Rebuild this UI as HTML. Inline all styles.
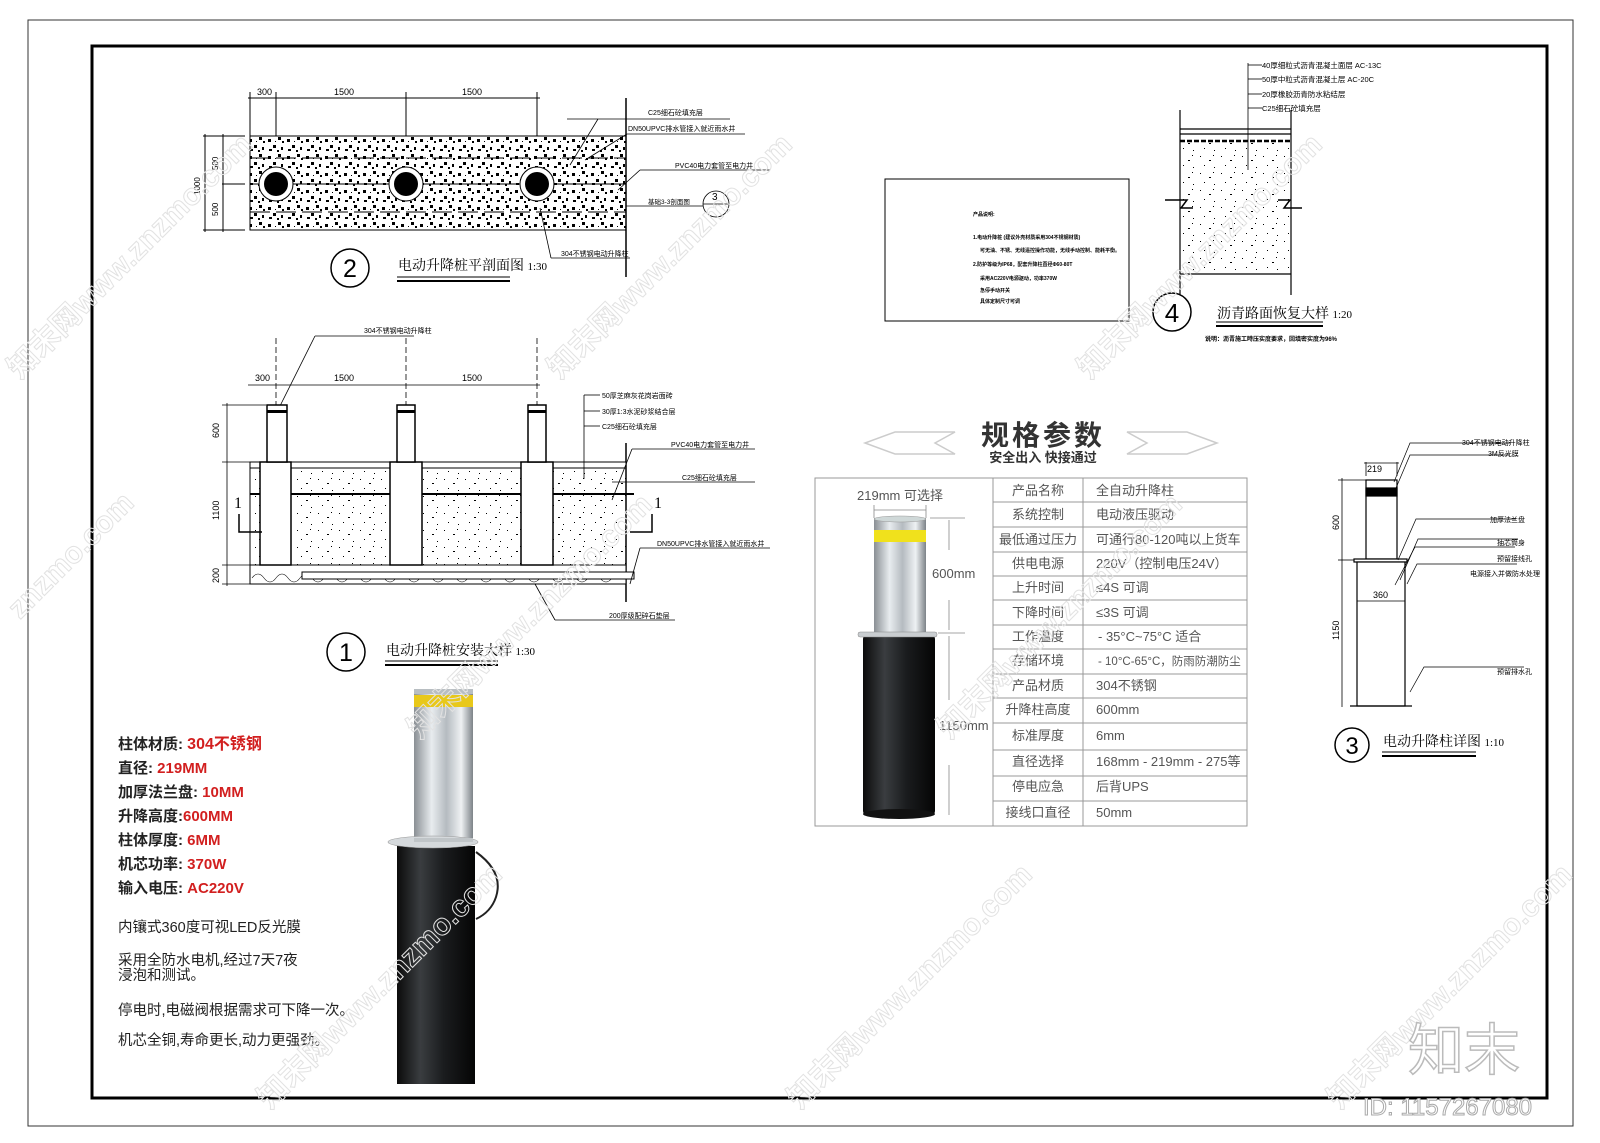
<!DOCTYPE html>
<html><head><meta charset="utf-8">
<style>
html,body{margin:0;padding:0;background:#fff;}
svg{display:block;font-family:"Liberation Sans","Noto Sans CJK SC",sans-serif;}
</style></head>
<body>
<svg width="1600" height="1143" viewBox="0 0 1600 1143" xmlns="http://www.w3.org/2000/svg">
<defs>
<pattern id="spk" width="19" height="17" patternUnits="userSpaceOnUse">
<rect x="2" y="3" width="3" height="3" fill="#000"/><rect x="12" y="1" width="3" height="3" fill="#000"/>
<rect x="7" y="9" width="3" height="3" fill="#000"/><rect x="15" y="11" width="2" height="3" fill="#000"/>
<rect x="3" y="13" width="3" height="2" fill="#000"/><rect x="16" y="5" width="2" height="2" fill="#000"/>
<rect x="11" y="14" width="2" height="2" fill="#000"/><rect x="9" y="5" width="1" height="1" fill="#000"/>
</pattern>
<pattern id="spk2" width="21" height="17" patternUnits="userSpaceOnUse">
<rect x="3" y="3" width="1" height="1" fill="#000"/><rect x="12" y="7" width="2" height="1" fill="#000"/>
<rect x="7" y="12" width="1" height="1" fill="#000"/><rect x="17" y="14" width="1" height="1" fill="#000"/>
<rect x="16" y="2" width="1" height="1" fill="#000"/>
</pattern>
<linearGradient id="steel" x1="0" x2="1" y1="0" y2="0">
<stop offset="0" stop-color="#8a8f94"/><stop offset="0.3" stop-color="#e8ecef"/><stop offset="0.55" stop-color="#b5bbc0"/><stop offset="0.8" stop-color="#eef1f3"/><stop offset="1" stop-color="#7d8388"/>
</linearGradient>
<linearGradient id="blk" x1="0" x2="1" y1="0" y2="0">
<stop offset="0" stop-color="#0b0b0b"/><stop offset="0.3" stop-color="#3a3d40"/><stop offset="0.6" stop-color="#1a1c1e"/><stop offset="1" stop-color="#050505"/>
</linearGradient>
</defs>

<rect x="28" y="20" width="1545" height="1106" fill="none" stroke="#333" stroke-width="1"/>
<rect x="92" y="46" width="1455" height="1052" fill="none" stroke="#000" stroke-width="3"/>

<!-- ② -->
<g stroke="#000" fill="none" stroke-width="1">
<line x1="248" y1="98" x2="540" y2="98"/>
<line x1="250" y1="92" x2="250" y2="136"/><line x1="276" y1="92" x2="276" y2="136"/><line x1="406" y1="92" x2="406" y2="136"/><line x1="537" y1="92" x2="537" y2="136"/>
<line x1="626" y1="98" x2="626" y2="277" stroke-width="1.5"/>
<line x1="203" y1="136" x2="245" y2="136"/><line x1="203" y1="230" x2="245" y2="230"/><line x1="222" y1="184" x2="245" y2="184"/>
<line x1="205" y1="134" x2="205" y2="232"/><line x1="223" y1="134" x2="223" y2="232"/>
</g>
<rect x="250" y="136" width="376" height="94" fill="url(#spk)" stroke="#000"/>
<g stroke="#000" stroke-width="1">
<line x1="250" y1="184" x2="626" y2="184"/><line x1="250" y1="158" x2="626" y2="158" stroke-dasharray="20 6"/><line x1="250" y1="212" x2="626" y2="212" stroke-dasharray="20 6"/>
</g>
<g>
<circle cx="276" cy="184" r="17" fill="#fff" stroke="#000"/><circle cx="276" cy="184" r="12" fill="#000"/>
<circle cx="406" cy="184" r="17" fill="#fff" stroke="#000"/><circle cx="406" cy="184" r="12" fill="#000"/>
<circle cx="537" cy="184" r="17" fill="#fff" stroke="#000"/><circle cx="537" cy="184" r="12" fill="#000"/>
</g>
<g font-size="9" fill="#000">
<text x="257" y="95">300</text><text x="334" y="95">1500</text><text x="462" y="95">1500</text>
<text x="648" y="115" font-size="7">C25细石砼填充层</text>
<text x="628" y="131" font-size="7">DN50UPVC排水管接入就近雨水井</text>
<text x="675" y="168" font-size="7">PVC40电力套管至电力井</text>
<text x="648" y="204" font-size="6.5">基础3-3剖面图</text>
<text x="561" y="256" font-size="7">304不锈钢电动升降柱</text>
<text x="218" y="170" font-size="8" transform="rotate(-90 218 170)">500</text>
<text x="218" y="216" font-size="8" transform="rotate(-90 218 216)">500</text>
<text x="200" y="195" font-size="8" transform="rotate(-90 200 195)">1000</text>
</g>
<g stroke="#000" fill="none" stroke-width="0.8">
<line x1="567" y1="119" x2="730" y2="119"/><line x1="627" y1="134" x2="745" y2="134"/><line x1="640" y1="170" x2="770" y2="170"/><line x1="626" y1="206" x2="703" y2="206"/><line x1="551" y1="258" x2="630" y2="258"/>
<circle cx="716" cy="204" r="13"/><line x1="703" y1="204" x2="729" y2="204"/>
<line x1="570" y1="165" x2="598" y2="119"/><line x1="585" y1="160" x2="627" y2="134"/><line x1="540" y1="208" x2="551" y2="258"/>
<line x1="618" y1="190" x2="640" y2="170"/>
</g>
<text x="712" y="200" font-size="10">3</text>
<circle cx="350" cy="268" r="19" fill="none" stroke="#000" stroke-width="1.5"/>
<text x="350" y="277" font-size="25" text-anchor="middle">2</text>
<text x="398" y="270" font-size="14" font-family="Liberation Serif,'Noto Serif CJK SC',serif">电动升降桩平剖面图 <tspan font-size="11">1:30</tspan></text>
<line x1="397" y1="277" x2="510" y2="277" stroke="#000" stroke-width="1"/><line x1="397" y1="281" x2="510" y2="281" stroke="#000" stroke-width="2"/>

<!-- ① -->
<g stroke="#000" fill="none" stroke-width="0.8">
<line x1="248" y1="385" x2="540" y2="385"/>
<line x1="276" y1="338" x2="276" y2="405" stroke-dasharray="6 3"/><line x1="406" y1="338" x2="406" y2="405" stroke-dasharray="6 3"/><line x1="537" y1="338" x2="537" y2="405" stroke-dasharray="6 3"/>
<line x1="227" y1="403" x2="227" y2="586"/><line x1="222" y1="405" x2="266" y2="405"/><line x1="222" y1="462" x2="250" y2="462"/><line x1="222" y1="565" x2="250" y2="565"/><line x1="222" y1="584" x2="250" y2="584"/>
<line x1="626" y1="443" x2="626" y2="602" stroke-width="1.5"/>
<line x1="280" y1="406" x2="315" y2="336"/><line x1="315" y1="336" x2="414" y2="336"/>
</g>
<rect x="250" y="462" width="376" height="6" fill="#fff" stroke="#000"/>
<rect x="250" y="468" width="376" height="97" fill="url(#spk2)" stroke="#000"/>
<line x1="250" y1="494" x2="634" y2="494" stroke="#000" stroke-width="2"/>
<rect x="250" y="565" width="376" height="19" fill="#fff" stroke="#000"/>
<g fill="none" stroke="#000" stroke-width="0.6">
<path d="M252 578 q6 -8 12 0 q6 8 12 0 q6 -8 12 0 q6 8 12 0 q6 -8 12 0 q6 8 12 0 q6 -8 12 0 q6 8 12 0 q6 -8 12 0 q6 8 12 0 q6 -8 12 0 q6 8 12 0 q6 -8 12 0 q6 8 12 0 q6 -8 12 0 q6 8 12 0 q6 -8 12 0 q6 8 12 0 q6 -8 12 0 q6 8 12 0 q6 -8 12 0 q6 8 12 0 q6 -8 12 0 q6 8 12 0 q6 -8 12 0 q6 8 12 0 q6 -8 12 0 q6 8 12 0 q6 -8 12 0 q6 8 12 0 q6 -8 12 0"/>
</g>
<rect x="302" y="572" width="332" height="7" fill="#fff" stroke="#000"/>
<g fill="#fff" stroke="#000" stroke-width="1.5">
<rect x="260" y="462" width="31" height="103"/><rect x="390" y="462" width="32" height="103"/><rect x="521" y="462" width="32" height="103"/>
<rect x="267" y="405" width="20" height="57"/><rect x="397" y="405" width="18" height="57"/><rect x="528" y="405" width="18" height="57"/>
</g>
<g fill="#000"><rect x="267" y="410" width="20" height="3"/><rect x="397" y="410" width="18" height="3"/><rect x="528" y="410" width="18" height="3"/></g>
<g font-size="9" fill="#000">
<text x="255" y="381">300</text><text x="334" y="381">1500</text><text x="462" y="381">1500</text>
<text x="364" y="333" font-size="7">304不锈钢电动升降柱</text>
<text x="602" y="398" font-size="7">50厚芝麻灰花岗岩面砖</text>
<text x="602" y="414" font-size="7">30厚1:3水泥砂浆结合层</text>
<text x="602" y="429" font-size="7">C25细石砼填充层</text>
<text x="671" y="447" font-size="7">PVC40电力套管至电力井</text>
<text x="682" y="480" font-size="7">C25细石砼填充层</text>
<text x="657" y="546" font-size="7">DN50UPVC排水管接入就近雨水井</text>
<text x="609" y="618" font-size="7">200厚级配碎石垫层</text>
<text x="234" y="508" font-size="16" font-family="Liberation Serif">1</text>
<text x="654" y="508" font-size="16" font-family="Liberation Serif">1</text>
<text x="219" y="438" font-size="9" transform="rotate(-90 219 438)">600</text>
<text x="219" y="520" font-size="9" transform="rotate(-90 219 520)">1100</text>
<text x="219" y="583" font-size="9" transform="rotate(-90 219 583)">200</text>
</g>
<g stroke="#000" fill="none" stroke-width="0.8">
<line x1="584" y1="395" x2="600" y2="395"/><line x1="584" y1="395" x2="584" y2="479"/><line x1="584" y1="411" x2="600" y2="411"/><line x1="584" y1="426" x2="600" y2="426"/>
<line x1="612" y1="500" x2="632" y2="449"/><line x1="632" y1="449" x2="755" y2="449"/>
<line x1="612" y1="482" x2="755" y2="482"/>
<line x1="630" y1="584" x2="640" y2="548"/><line x1="640" y1="548" x2="770" y2="548"/>
<line x1="535" y1="584" x2="555" y2="620"/><line x1="555" y1="620" x2="675" y2="620"/>
<path d="M239 514 v18 h23" stroke-width="1.5"/><path d="M652 514 v18 h-22" stroke-width="1.5"/>
</g>
<circle cx="346" cy="652" r="19" fill="none" stroke="#000" stroke-width="1.5"/>
<text x="346" y="661" font-size="25" text-anchor="middle">1</text>
<text x="386" y="655" font-size="14" font-family="Liberation Serif,'Noto Serif CJK SC',serif">电动升降桩安装大样 <tspan font-size="11">1:30</tspan></text>
<line x1="385" y1="661" x2="498" y2="661" stroke="#000"/><line x1="385" y1="665" x2="498" y2="665" stroke="#000" stroke-width="2"/>

<!-- text box -->
<rect x="885" y="179" width="244" height="142" fill="none" stroke="#000"/>
<g font-size="5" fill="#000" font-weight="bold">
<text x="973" y="216">产品说明:</text>
<text x="973" y="239">1.电动升降桩    (建议外壳材质采用304不锈钢材质)</text>
<text x="980" y="252">可无油、不锈、无线遥控操作功能，无线手动控制、能耗平衡。</text>
<text x="973" y="266">2.防护等级为IP68，配套升降柱直径Φ60-80T</text>
<text x="980" y="280">采用AC220V电源驱动，功率370W</text>
<text x="980" y="292">急停手动开关</text>
<text x="980" y="303">具体定制尺寸可调</text>
</g>

<!-- ④ -->
<g stroke="#000" fill="none" stroke-width="1.2">
<line x1="1180" y1="110" x2="1180" y2="295"/><line x1="1291" y1="110" x2="1291" y2="295"/>
<line x1="1180" y1="129" x2="1291" y2="129"/><line x1="1180" y1="134" x2="1291" y2="134"/>
<line x1="1180" y1="141" x2="1291" y2="141" stroke-width="2.5" stroke-dasharray="5 2"/>
<line x1="1180" y1="274" x2="1291" y2="274"/>
<path d="M1165 200 h22 l-6 8 h12" stroke-width="1.5"/><path d="M1278 200 h12 l-6 8 h18" stroke-width="1.5"/>
<line x1="1248" y1="63" x2="1248" y2="170" stroke-width="0.8"/>
<line x1="1248" y1="65" x2="1262" y2="65" stroke-width="0.8"/><line x1="1248" y1="79" x2="1262" y2="79" stroke-width="0.8"/><line x1="1248" y1="94" x2="1262" y2="94" stroke-width="0.8"/><line x1="1248" y1="108" x2="1262" y2="108" stroke-width="0.8"/>
</g>
<rect x="1181" y="142" width="109" height="132" fill="url(#spk2)"/>
<g font-size="7.5" fill="#000">
<text x="1262" y="68">40厚细粒式沥青混凝土面层 AC-13C</text>
<text x="1262" y="82">50厚中粒式沥青混凝土层 AC-20C</text>
<text x="1262" y="97">20厚橡胶沥青防水粘结层</text>
<text x="1262" y="111">C25细石砼填充层</text>
<text x="1205" y="341" font-size="6" font-weight="bold">说明：沥青施工時压实度要求，回填密实度为96%</text>
</g>
<circle cx="1172" cy="312" r="19" fill="none" stroke="#000" stroke-width="1.5"/>
<text x="1172" y="322" font-size="26" text-anchor="middle">4</text>
<text x="1217" y="318" font-size="14" font-family="Liberation Serif,'Noto Serif CJK SC',serif">沥青路面恢复大样 <tspan font-size="11">1:20</tspan></text>
<line x1="1216" y1="322" x2="1323" y2="322" stroke="#000"/><line x1="1216" y1="326" x2="1323" y2="326" stroke="#000" stroke-width="2"/>

<!-- ③ -->
<g stroke="#000" fill="none" stroke-width="1.2">
<rect x="1366" y="480" width="31" height="79" fill="#fff"/>
<rect x="1366" y="488" width="31" height="8" fill="#000"/>
<rect x="1354" y="559" width="53" height="3" fill="#fff"/>
<rect x="1357" y="562" width="48" height="144" fill="#fff"/>
<line x1="1357" y1="601" x2="1405" y2="601" stroke-width="0.8"/>
<line x1="1350" y1="706" x2="1412" y2="706"/>
<line x1="1342" y1="478" x2="1342" y2="707" stroke-width="0.8"/>
<line x1="1338" y1="480" x2="1366" y2="480" stroke-width="0.8"/><line x1="1338" y1="560" x2="1354" y2="560" stroke-width="0.8"/>
<line x1="1366" y1="462" x2="1366" y2="476" stroke-width="0.8"/><line x1="1397" y1="462" x2="1397" y2="476" stroke-width="0.8"/><line x1="1364" y1="463" x2="1399" y2="463" stroke-width="0.8"/>
<g stroke-width="0.7">
<path d="M1394 482 l16 -39 h100"/><path d="M1396 488 l14 -33 h100"/>
<path d="M1398 560 l18 -41 h100"/><path d="M1400 580 l18 -41 h100"/>
<path d="M1395 585 l20 -38 h100"/><path d="M1407 584 l10 -20 h100"/>
<path d="M1410 692 l14 -25 h100"/>
</g>
</g>
<g font-size="7" fill="#000">
<text x="1462" y="445">304不锈钢电动升降柱</text><text x="1488" y="456">3M反光膜</text>
<text x="1490" y="522">加厚法兰盘</text><text x="1497" y="545">抽芯筒身</text><text x="1497" y="561">预留接线孔</text>
<text x="1470" y="576">电源接入并做防水处理</text><text x="1497" y="674">预留排水孔</text>
<text x="1367" y="472" font-size="9">219</text><text x="1373" y="598" font-size="9">360</text>
<text x="1339" y="530" font-size="9" transform="rotate(-90 1339 530)">600</text>
<text x="1339" y="640" font-size="9" transform="rotate(-90 1339 640)">1150</text>
</g>
<circle cx="1352" cy="745" r="17" fill="none" stroke="#000" stroke-width="1.5"/>
<text x="1352" y="754" font-size="24" text-anchor="middle">3</text>
<text x="1383" y="746" font-size="14" font-family="Liberation Serif,'Noto Serif CJK SC',serif">电动升降柱详图 <tspan font-size="11">1:10</tspan></text>
<line x1="1382" y1="752" x2="1476" y2="752" stroke="#000"/><line x1="1382" y1="756" x2="1476" y2="756" stroke="#000" stroke-width="2"/>

<!-- spec section -->
<g fill="none" stroke="#ccc" stroke-width="1.5">
<path d="M955 432 h-60 l-30 11 l30 11 h60 l-20 -11 z"/>
<path d="M1127 432 h60 l30 11 l-30 11 h-60 l20 -11 z"/>
</g>
<text x="1043" y="445" font-size="28" font-weight="bold" text-anchor="middle" fill="#333" letter-spacing="3">规格参数</text>
<text x="1043" y="462" font-size="13" text-anchor="middle" fill="#333" font-weight="bold">安全出入 快接通过</text>
<rect x="815" y="478" width="432" height="348" fill="#fff" stroke="#999" stroke-width="1"/>
<g stroke="#999" stroke-width="1">
<line x1="993" y1="478" x2="993" y2="826"/><line x1="1083" y1="478" x2="1083" y2="826"/>
<line x1="993" y1="502" x2="1247" y2="502"/><line x1="993" y1="527" x2="1247" y2="527"/><line x1="993" y1="552" x2="1247" y2="552"/><line x1="993" y1="576" x2="1247" y2="576"/><line x1="993" y1="600" x2="1247" y2="600"/><line x1="993" y1="625" x2="1247" y2="625"/><line x1="993" y1="649" x2="1247" y2="649"/><line x1="993" y1="674" x2="1247" y2="674"/><line x1="993" y1="698" x2="1247" y2="698"/><line x1="993" y1="723" x2="1247" y2="723"/><line x1="993" y1="750" x2="1247" y2="750"/><line x1="993" y1="776" x2="1247" y2="776"/><line x1="993" y1="801" x2="1247" y2="801"/>
</g>
<g font-size="13" fill="#555" text-anchor="middle">
<text x="1038" y="495">产品名称</text><text x="1038" y="519">系统控制</text><text x="1038" y="544">最低通过压力</text><text x="1038" y="568">供电电源</text><text x="1038" y="592">上升时间</text><text x="1038" y="617">下降时间</text><text x="1038" y="641">工作温度</text><text x="1038" y="665">存储环境</text><text x="1038" y="690">产品材质</text><text x="1038" y="714">升降柱高度</text><text x="1038" y="740">标准厚度</text><text x="1038" y="766">直径选择</text><text x="1038" y="791">停电应急</text><text x="1038" y="817">接线口直径</text>
</g>
<g font-size="13" fill="#555">
<text x="1096" y="495">全自动升降柱</text><text x="1096" y="519">电动液压驱动</text><text x="1096" y="544">可通行80-120吨以上货车</text><text x="1096" y="568">220V（控制电压24V）</text><text x="1096" y="592">≤4S 可调</text><text x="1096" y="617">≤3S 可调</text><text x="1098" y="641">- 35°C~75°C 适合</text><text x="1098" y="665" font-size="11.5">- 10°C-65°C，防雨防潮防尘</text><text x="1096" y="690">304不锈钢</text><text x="1096" y="714">600mm</text><text x="1096" y="740">6mm</text><text x="1096" y="766">168mm - 219mm - 275等</text><text x="1096" y="791">后背UPS</text><text x="1096" y="817">50mm</text>
</g>
<g fill="#555" font-size="13">
<text x="857" y="500">219mm 可选择</text><text x="932" y="578">600mm</text><text x="939" y="730">1150mm</text>
</g>
<g stroke="#888" stroke-width="0.8" fill="none">
<line x1="874" y1="505" x2="874" y2="518"/><line x1="926" y1="505" x2="926" y2="518"/><line x1="874" y1="510" x2="926" y2="510"/>
<line x1="930" y1="518" x2="965" y2="518"/><line x1="949" y1="520" x2="949" y2="550"/><line x1="949" y1="600" x2="949" y2="630"/><line x1="938" y1="633" x2="965" y2="633"/>
<line x1="949" y1="636" x2="949" y2="700"/><line x1="949" y1="765" x2="949" y2="815"/>
</g>
<rect x="863" y="635" width="72" height="180" rx="4" fill="url(#blk)"/>
<ellipse cx="899" cy="814" rx="36" ry="5" fill="#111"/>
<rect x="874" y="518" width="52" height="117" fill="url(#steel)"/>
<ellipse cx="900" cy="519" rx="26" ry="3" fill="#cfd8d8" stroke="#999" stroke-width="0.5"/>
<rect x="874" y="530" width="52" height="12" fill="#f0e11c"/>
<rect x="858" y="632" width="79" height="5" rx="2" fill="#c9cdd0" stroke="#888" stroke-width="0.5"/>

<!-- left text -->
<g font-size="15" font-weight="bold" fill="#222">
<text x="118" y="749">柱体材质: <tspan fill="#d21f1f" font-size="16">304不锈钢</tspan></text>
<text x="118" y="773">直径: <tspan fill="#d21f1f">219MM</tspan></text>
<text x="118" y="797">加厚法兰盘: <tspan fill="#d21f1f">10MM</tspan></text>
<text x="118" y="821">升降高度:<tspan fill="#d21f1f">600MM</tspan></text>
<text x="118" y="845">柱体厚度: <tspan fill="#d21f1f">6MM</tspan></text>
<text x="118" y="869">机芯功率: <tspan fill="#d21f1f">370W</tspan></text>
<text x="118" y="893">输入电压: <tspan fill="#d21f1f">AC220V</tspan></text>
</g>
<g font-size="14.5" fill="#222">
<text x="118" y="932">内镶式360度可视LED反光膜</text>
<text x="118" y="965">采用全防水电机,经过7天7夜</text>
<text x="118" y="980">浸泡和测试。</text>
<text x="118" y="1015">停电时,电磁阀根据需求可下降一次。</text>
<text x="118" y="1045">机芯全铜,寿命更长,动力更强劲。</text>
</g>
<rect x="397" y="846" width="78" height="238" fill="url(#blk)"/>
<path d="M476 852 q28 20 20 45 q-5 15 -20 22" fill="none" stroke="#222" stroke-width="2"/>
<rect x="414" y="689" width="59" height="155" fill="url(#steel)"/>
<rect x="414" y="695" width="59" height="12" fill="#e8c81a"/>
<rect x="414" y="689" width="59" height="5" fill="#b8bec2"/>
<ellipse cx="433" cy="842" rx="45" ry="6" fill="#d5d9dc" stroke="#999" stroke-width="0.6"/>
<rect x="414" y="838" width="59" height="4" fill="#c0c5c8"/>

<!-- watermarks -->
<g fill="none" stroke="#e2e2e2" stroke-width="1" font-size="30" font-weight="bold">
<text x="0" y="0" transform="translate(20 380) rotate(-45)">知末网www.znzmo.com</text>
<text x="0" y="0" transform="translate(560 380) rotate(-45)">知末网www.znzmo.com</text>
<text x="0" y="0" transform="translate(1090 380) rotate(-45)">知末网www.znzmo.com</text>
<text x="0" y="0" transform="translate(20 620) rotate(-45)">znzmo.com</text>
<text x="0" y="0" transform="translate(420 740) rotate(-45)">知末网www.znzmo.com</text>
<text x="0" y="0" transform="translate(950 740) rotate(-45)">知末网www.znzmo.com</text>
<text x="0" y="0" transform="translate(270 1110) rotate(-45)">知末网www.znzmo.com</text>
<text x="0" y="0" transform="translate(800 1110) rotate(-45)">知末网www.znzmo.com</text>
<text x="0" y="0" transform="translate(1340 1110) rotate(-45)">知末网www.znzmo.com</text>
</g>
<text x="1408" y="1070" font-size="56" fill="#fff" stroke="#bbb" stroke-width="1.5">知末</text>
<text x="1363" y="1115" font-size="24" fill="#fff" stroke="#aaa" stroke-width="1">ID: 1157267080</text>
</svg>
</body></html>
